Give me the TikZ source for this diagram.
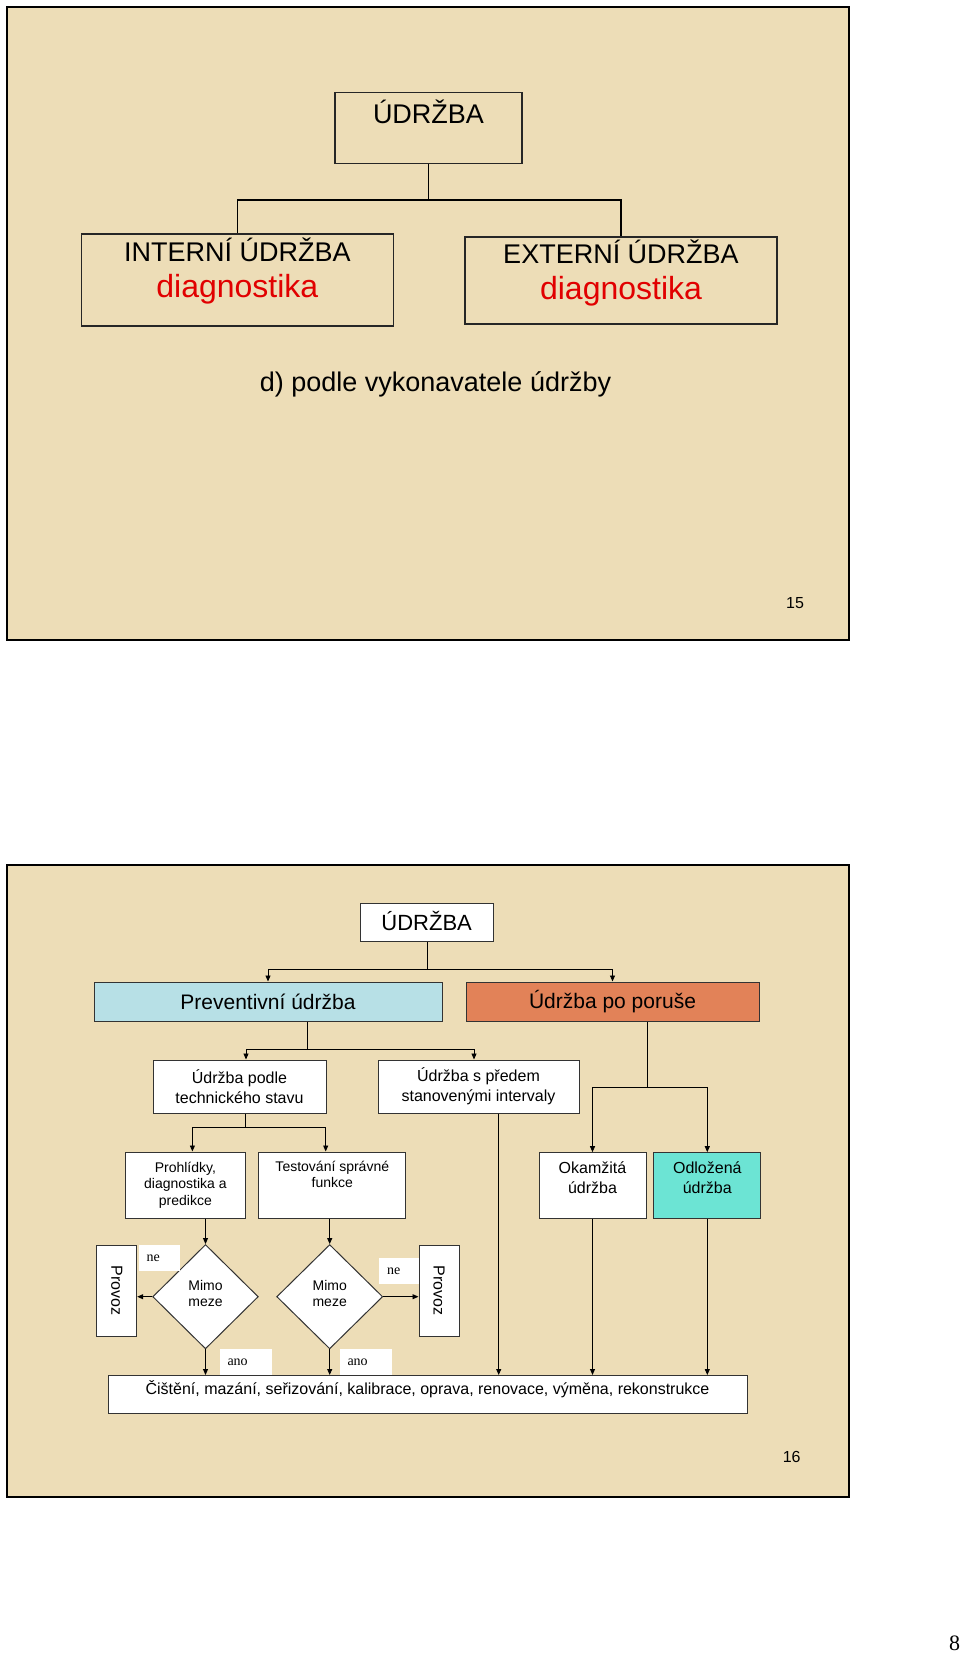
\documentclass[tikz,border=0pt]{standalone}
\usepackage{fontspec}
\setmainfont{Liberation Sans}
\newfontfamily\timesfont{Liberation Serif}
\usetikzlibrary{arrows.meta,shapes.geometric,positioning}
\definecolor{parchment}{RGB}{237,221,183}
\definecolor{prevblue}{RGB}{183,224,230}
\definecolor{failorange}{RGB}{226,130,88}
\definecolor{delaycyan}{RGB}{108,228,212}
\definecolor{diagred}{RGB}{225,0,0}
\newcommand{\fsz}[2]{\fontsize{#1}{#2}\selectfont}

\begin{document}
\begin{tikzpicture}[x=1pt, y=-1pt,
    slide/.style={draw=black, line width=2pt, fill=parchment},
    bigbox/.style={draw=black!85, line width=1.6pt, inner sep=0pt},
    box/.style={draw=black!80, line width=1pt, fill=white, inner sep=0pt, align=center},
    dec/.style={diamond, draw=black!80, line width=1pt, fill=white, inner sep=0pt},
    link/.style={line width=0.9pt},
    arr/.style={link, -{Triangle[length=6pt,width=5pt]}},
    tag/.style={fill=white, inner xsep=8pt, inner ysep=0pt, minimum height=26pt, align=left, font=\timesfont\fsz{14}{16}},
    every label/.style={inner sep=0pt, align=center}]
  \useasboundingbox (0,0) rectangle (960,1653);

  % slide 15
  \draw[slide] (7,7) rectangle (849,640);
  \node[bigbox, minimum width=187pt, minimum height=71pt,
        label={[below=8pt, font=\fsz{27}{33}]north:ÚDRŽBA}] (top1) at (428.5,128) {};
  \node[bigbox, minimum width=312pt, minimum height=92pt,
        label={[below=5pt, font=\fsz{27}{36}]north:{INTERNÍ ÚDRŽBA\\{\fsz{32}{36}\color{diagred}diagnostika}}}] (intern) at (237.3,280) {};
  \node[bigbox, minimum width=312pt, minimum height=87pt,
        label={[below=4pt, font=\fsz{27}{36}]north:{EXTERNÍ ÚDRŽBA\\{\fsz{32}{36}\color{diagred}diagnostika}}}] (extern) at (621,280.5) {};
  \coordinate (fork1) at (428.5,200);
  \draw[link, line width=1.3pt] (top1.south) -- (fork1);
  \draw[link, line width=1.3pt] (intern.north) |- (fork1) -| (extern.north);
  \node[anchor=base, font=\fsz{27}{33}] (subtitle) at (435.5,391) {d) podle vykonavatele údržby};
  \node[anchor=base, font=\fsz{16}{20}] (page15) at (795,608) {15};

  % slide 16
  \draw[slide] (7,865) rectangle (849,1497);
  \node[box, minimum width=133pt, minimum height=38.5pt,
        label={[yshift=1.5pt, font=\fsz{22}{26}]center:ÚDRŽBA}] (top2) at (426.7,922.5) {};
  \node[box, fill=prevblue, minimum width=348pt, minimum height=39pt, font=\fsz{21}{25}] (prev) at (268,1001.5) {Preventivní údržba};
  \node[box, fill=failorange, minimum width=293pt, minimum height=39pt, font=\fsz{21}{25}] (poruse) at (612.5,1001.5) {Údržba po poruše};
  \node[box, minimum width=173pt, minimum height=53pt, font=\fsz{16}{20}] (podle) at (239.5,1086.5) {Údržba podle\\technického stavu};
  \node[box, minimum width=201pt, minimum height=53pt, font=\fsz{16}{20}] (predem) at (478.5,1086.5) {Údržba s předem\\stanovenými intervaly};
  \node[box, minimum width=120.7pt, minimum height=66pt, font=\fsz{14}{16.7}] (prohl) at (185.4,1185) {Prohlídky,\\diagnostika a\\predikce};
  \node[box, minimum width=146.7pt, minimum height=66pt,
        label={[below=9pt, font=\fsz{14}{16}]north:{Testování správné\\funkce}}] (test) at (332.3,1185) {};
  \node[box, minimum width=107pt, minimum height=65.6pt,
        label={[below=9.5pt, font=\fsz{16}{20}]north:{Okamžitá\\údržba}}] (okam) at (592.5,1185.5) {};
  \node[box, fill=delaycyan, minimum width=106.7pt, minimum height=65.6pt,
        label={[below=9.5pt, font=\fsz{16}{20}]north:{Odložená\\údržba}}] (odloz) at (707.3,1185.5) {};
  \node[dec, minimum width=105.6pt, minimum height=104.3pt,
        label={[yshift=3.5pt, font=\fsz{14}{16}]center:{Mimo\\meze}}] (dia1) at (205.5,1296.7) {};
  \node[dec, minimum width=106pt, minimum height=104.3pt,
        label={[yshift=3.5pt, font=\fsz{14}{16}]center:{Mimo\\meze}}] (dia2) at (329.7,1296.7) {};
  \node[box, rotate=-90, minimum width=91pt, minimum height=40pt, font=\fsz{16}{20}] (prov1) at (116.7,1290.5) {Provoz};
  \node[box, rotate=-90, minimum width=91pt, minimum height=40pt, font=\fsz{16}{20}] (prov2) at (439,1290.5) {Provoz};
  \node[tag, text width=25pt] (ne1) at (159,1258) {ne};
  \node[tag, text width=24pt] (ne2) at (399,1270.8) {ne};
  \node[tag, text width=36pt] (ano1) at (245.5,1362.2) {ano};
  \node[tag, text width=36pt] (ano2) at (365.5,1362.2) {ano};
  \node[box, minimum width=639pt, minimum height=37.5pt,
        label={[below=5pt, font=\fsz{16}{20}]north:{Čištění, mazání, seřizování, kalibrace, oprava, renovace, výměna, rekonstrukce}}] (cist) at (427.5,1394.25) {};

  \coordinate (fork2) at (427,969);
  \coordinate (fork3) at (307.5,1049);
  \coordinate (fork4) at (647,1087);
  \coordinate (fork5) at (245.5,1127);
  \draw[link] (top2.south -| fork2) -- (fork2);
  \draw[arr] (fork2) -| (prev.north);
  \draw[arr] (fork2) -| (poruse.north);
  \draw[link] (prev.south -| fork3) -- (fork3);
  \draw[arr] (fork3) -| ([xshift=6.5pt]podle.north);
  \draw[arr] (fork3) -| ([xshift=-4.5pt]predem.north);
  \draw[link] (poruse.south -| fork4) -- (fork4);
  \draw[arr] (fork4) -| (okam.north);
  \draw[arr] (fork4) -| (odloz.north);
  \draw[link] (podle.south -| fork5) -- (fork5);
  \draw[arr] (fork5) -| ([xshift=7pt]prohl.north);
  \draw[arr] (fork5) -| ([xshift=-6.6pt]test.north);
  \draw[arr] (prohl.south -| dia1.north) -- (dia1.north);
  \draw[arr] (test.south -| dia2.north) -- (dia2.north);
  \draw[arr] (dia1.west) -- (dia1.west -| prov1.north);
  \draw[arr] (dia2.east) -- (dia2.east -| prov2.south);
  \draw[arr] (dia1.south) -- (dia1.south |- cist.north);
  \draw[arr] (dia2.south) -- (dia2.south |- cist.north);
  \draw[arr] ([xshift=20.2pt]predem.south) -- ([xshift=20.2pt]predem.south |- cist.north);
  \draw[arr] (okam.south) -- (okam.south |- cist.north);
  \draw[arr] (odloz.south) -- (odloz.south |- cist.north);
  \node[anchor=base, font=\fsz{16}{20}] (page16) at (791.7,1462.3) {16};

  \node[anchor=base west, inner sep=0pt, font=\timesfont\fsz{22}{26}] (sheet) at (949,1650) {8};
\end{tikzpicture}
\end{document}
